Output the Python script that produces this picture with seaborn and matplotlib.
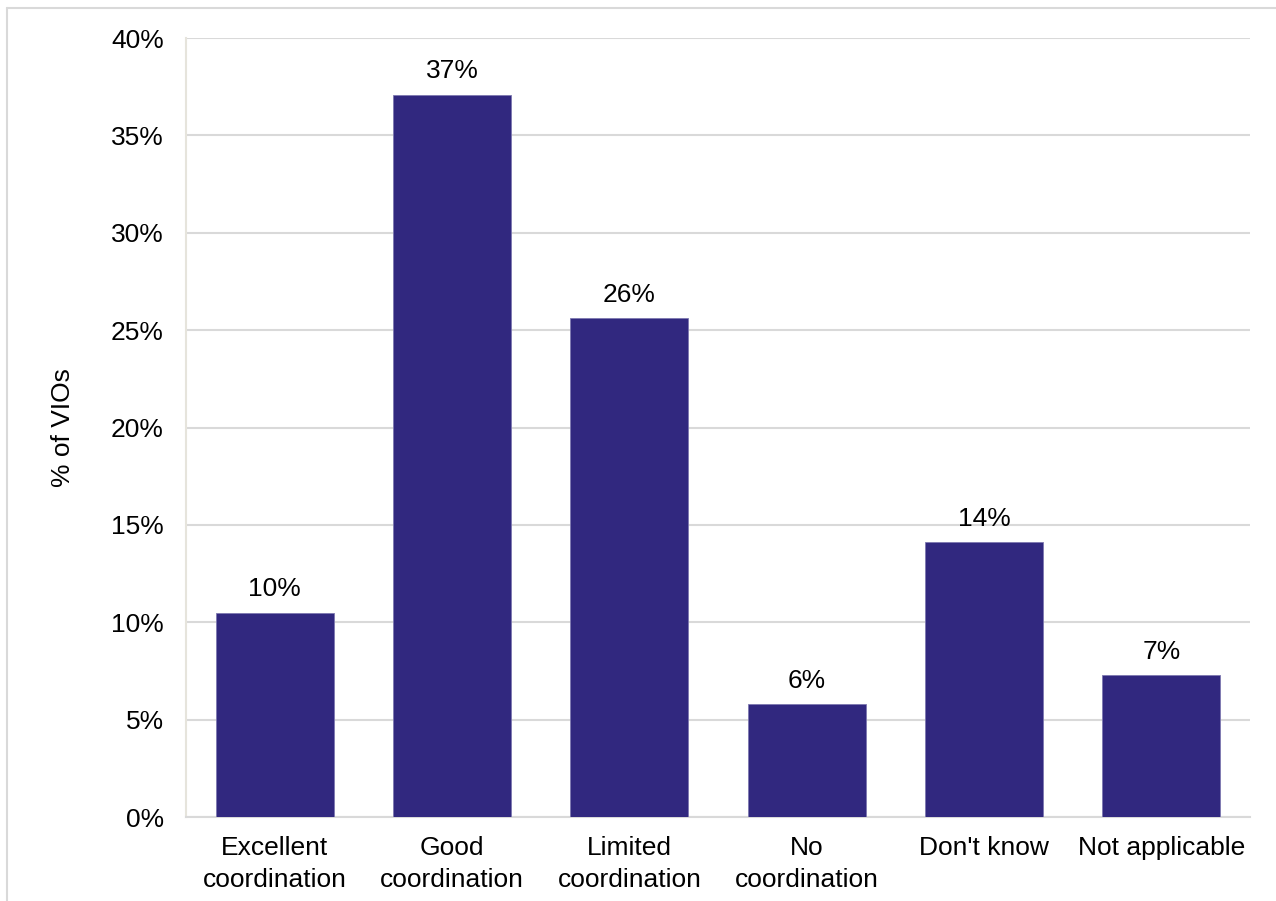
import matplotlib
matplotlib.use("Agg")
import matplotlib.pyplot as plt
from matplotlib.lines import Line2D
from matplotlib.ticker import FuncFormatter
import seaborn as sns
import pandas as pd

categories = ["Excellent\ncoordination", "Good\ncoordination", "Limited\ncoordination",
              "No\ncoordination", "Don't know", "Not applicable"]
shares = [10.5, 37.1, 25.6, 5.8, 14.1, 7.3]
y_ticks = [0, 5, 10, 15, 20, 25, 30, 35, 40]

sns.set_theme(style="white")
plt.rcParams["font.family"] = ["Liberation Sans", "DejaVu Sans"]

df = pd.DataFrame({"category": categories, "share": shares})

fig = plt.figure(figsize=(12.76, 9.01), dpi=100)
ax = fig.add_axes([0.1458, 0.0932, 0.9796 - 0.1458, 0.9578 - 0.0932])

sns.barplot(data=df, x="category", y="share", color="#31287f", saturation=1,
            width=0.666, edgecolor="#7d78b0", linewidth=0.6, ax=ax, zorder=3)

for patch, v in zip(ax.patches, shares):
    ax.annotate(f"{v:.0f}%", (patch.get_x() + patch.get_width() / 2, patch.get_height()),
                xytext=(0, 8), textcoords="offset points", ha="center", va="bottom",
                fontsize=19, color="#000000")

ax.set_ylim(0, 40)
ax.set_yticks(y_ticks)
ax.yaxis.set_major_formatter(FuncFormatter(lambda v, p: f"{v:.0f}%"))
ax.set_xlim(-0.5, len(categories) - 0.5)
ax.yaxis.grid(True, color="#d9d9d9", linewidth=1.5, zorder=0)
ax.set_axisbelow(True)

for side in ["top", "right"]:
    ax.spines[side].set_visible(False)
ax.spines["left"].set_color("#e6e4dc")
ax.spines["left"].set_linewidth(1.5)
ax.spines["bottom"].set_color("#d9d9d9")
ax.spines["bottom"].set_linewidth(1.5)

ax.tick_params(axis="y", length=0, pad=16, labelsize=19, labelcolor="#000000")
ax.tick_params(axis="x", length=0, pad=14, labelsize=19, labelcolor="#000000")
for t in ax.get_xticklabels():
    t.set_linespacing(1.38)

ax.set_xlabel("")
ax.set_ylabel("% of VIOs", fontsize=19, color="#000000", labelpad=26)

# light outer frame along the top and left edges
fig.add_artist(Line2D([7 / 1276, 7 / 1276], [0, 1 - 8 / 901], transform=fig.transFigure,
                      color="#d9d9d9", linewidth=1.5))
fig.add_artist(Line2D([7 / 1276, 1], [1 - 8 / 901, 1 - 8 / 901], transform=fig.transFigure,
                      color="#d9d9d9", linewidth=1.5))

fig.savefig("out.png", dpi=100, facecolor="white")
